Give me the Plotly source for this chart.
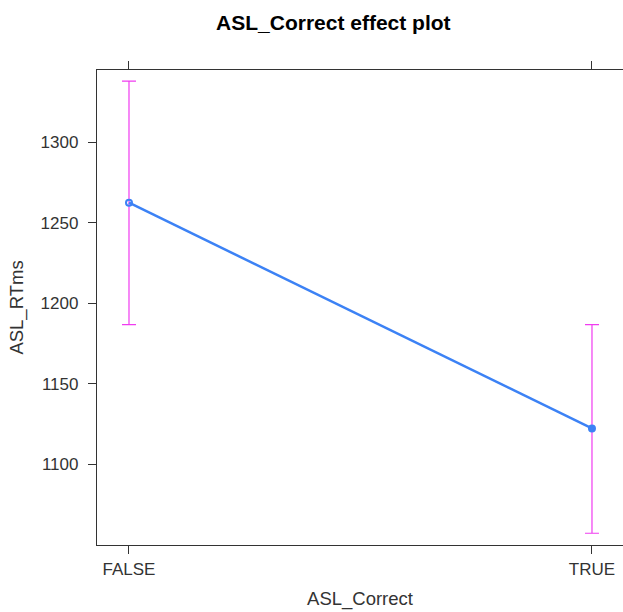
import plotly.graph_objects as go

categories = ["FALSE", "TRUE"]
fit = [1262.5, 1122.3]
upper = [1338.0, 1186.8]
lower = [1186.8, 1057.2]

x_pos = list(range(len(categories)))
err_plus = [u - f for u, f in zip(upper, fit)]
err_minus = [f - l for f, l in zip(fit, lower)]

BLUE = "#3C82F5"
MAG = "#F03CF0"
AX = "#333333"
FONT = "Liberation Sans, Arial, sans-serif"

fig = go.Figure()
fig.add_trace(go.Scatter(
    x=x_pos, y=fit,
    mode="lines+markers",
    line=dict(color=BLUE, width=2.5),
    marker=dict(color=BLUE, size=6, symbol=["circle-open", "circle"], line=dict(color=BLUE, width=2)),
    error_y=dict(type="data", symmetric=False, array=err_plus, arrayminus=err_minus,
                 color=MAG, thickness=1.2, width=7),
    showlegend=False,
    hoverinfo="skip",
))

fig.update_layout(
    width=623, height=612,
    margin=dict(l=97, r=0, t=70, b=67),
    paper_bgcolor="white", plot_bgcolor="white",
    font=dict(family=FONT, size=17, color=AX),
    title=dict(text="<b>ASL_Correct effect plot</b>", x=0.535, xanchor="center",
               y=0.963, yanchor="middle", font=dict(family=FONT, size=21, color="black")),
    showlegend=False,
)
fig.update_xaxes(
    range=[-0.0691, 1.067],
    tickvals=x_pos, ticktext=categories,
    ticks="outside", ticklen=8, tickcolor=AX, tickwidth=1,
    showline=True, linecolor=AX, linewidth=1.3, mirror="ticks",
    showgrid=False, zeroline=False,
    tickfont=dict(size=17, color=AX),
    title=dict(text="ASL_Correct", font=dict(size=18.5, color=AX), standoff=14),
)
fig.update_yaxes(
    range=[1049.9, 1344.9],
    tickvals=[1100, 1150, 1200, 1250, 1300],
    ticks="outside", ticklen=8, tickcolor=AX, tickwidth=1,
    ticklabelstandoff=6,
    showline=True, linecolor=AX, linewidth=1.3,
    showgrid=False, zeroline=False,
    tickfont=dict(size=17, color=AX),
    title=dict(text="ASL_RTms", font=dict(size=18.5, color=AX), standoff=12),
)

fig.write_html("out.html")
